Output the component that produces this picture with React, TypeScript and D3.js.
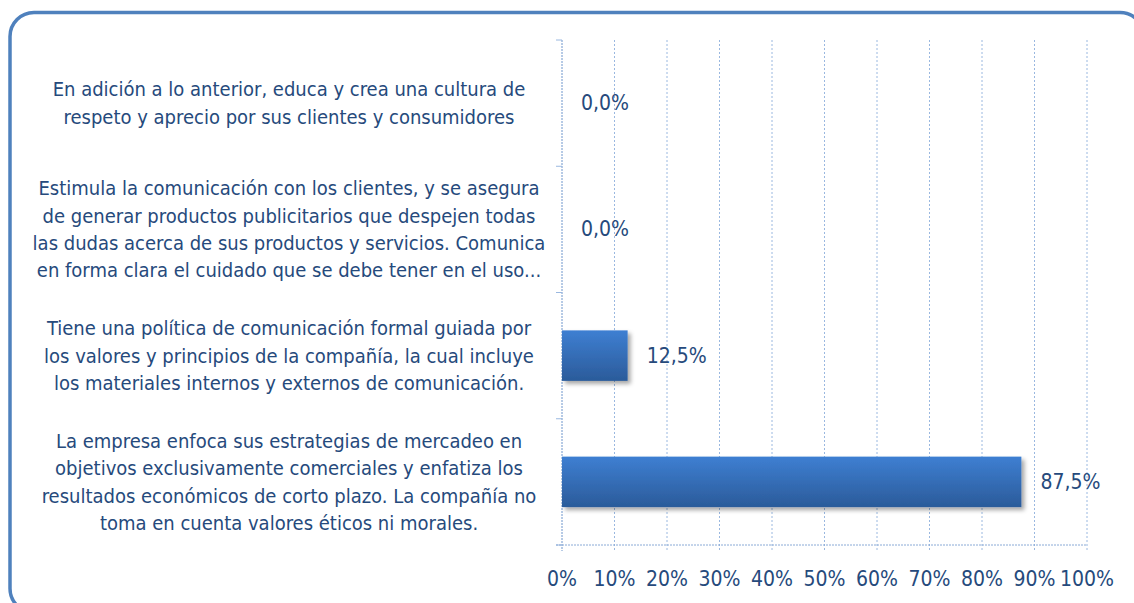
import React from "react";
import * as d3 from "d3";

const categories = ["cat1", "cat2", "cat3", "cat4"];
const categoryLines: string[][] = [
  [
    "En adición a lo anterior, educa y crea una cultura de",
    "respeto y aprecio por sus clientes y consumidores",
  ],
  [
    "Estimula la comunicación con los clientes, y se asegura",
    "de generar productos publicitarios que despejen todas",
    "las dudas acerca de sus productos y servicios. Comunica",
    "en forma clara el cuidado que se debe tener en el uso...",
  ],
  [
    "Tiene una política de comunicación formal guiada por",
    "los valores y principios de la compañía, la cual incluye",
    "los materiales internos y externos de comunicación.",
  ],
  [
    "La empresa enfoca sus estrategias de mercadeo en",
    "objetivos exclusivamente comerciales y enfatiza los",
    "resultados económicos de corto plazo. La compañía no",
    "toma en cuenta valores éticos ni morales.",
  ],
];
const values = [0, 0, 12.5, 87.5];
const xTicks = [0, 10, 20, 30, 40, 50, 60, 70, 80, 90, 100];

const W = 1134;
const H = 603;
const FONT = "'Liberation Sans Narrow', 'DejaVu Sans Condensed', 'Roboto Condensed', Roboto, sans-serif";
const TEXT = "#264a7c";

export default function App() {
  const x = d3.scaleLinear().domain([0, 100]).range([562, 1087]);
  const y = d3
    .scaleBand<string>()
    .domain(categories)
    .range([40, 545])
    .paddingInner(0.6)
    .paddingOuter(0.3);
  const step = y.step();
  const top = 40;
  const bottom = 545;
  const lineH = 27.4;

  return (
    <svg
      width={W}
      height={H}
      style={{ position: "absolute", left: 0, top: 0, background: "#fff" }}
      fontFamily={FONT}
    >
      <defs>
        <linearGradient id="barGrad" x1="0" y1="0" x2="0" y2="1">
          <stop offset="0%" stopColor="#3e7fd2" />
          <stop offset="100%" stopColor="#2b5b9a" />
        </linearGradient>
        <filter id="shadow" x="-10%" y="-30%" width="130%" height="170%">
          <feDropShadow dx="3" dy="3" stdDeviation="2" floodColor="#000" floodOpacity="0.35" />
        </filter>
      </defs>

      {/* frame */}
      <rect x={10} y={12.5} width={1134} height={600} rx={24} ry={24} fill="none" stroke="#4f81bd" strokeWidth={3.5} />

      {/* vertical gridlines */}
      {xTicks.map((t) => (
        <line
          key={"g" + t}
          x1={x(t)}
          x2={x(t)}
          y1={top}
          y2={bottom + 6}
          stroke={t === 0 ? "#6f96cc" : "#9ab8e0"}
          strokeWidth={1}
          strokeDasharray={t === 0 ? "2,1" : "2,2"}
        />
      ))}

      {/* left axis ticks */}
      {d3.range(categories.length + 1).map((i) => (
        <line
          key={"yt" + i}
          x1={x(0) - 6}
          x2={x(0)}
          y1={top + i * step}
          y2={top + i * step}
          stroke="#9ab8e0"
          strokeWidth={1}
        />
      ))}

      {/* bottom axis line */}
      <line x1={x(0) - 6} x2={x(100)} y1={bottom} y2={bottom} stroke="#8aaad6" strokeWidth={1} strokeDasharray="2,1" />

      {/* bars */}
      {values.map((v, i) =>
        v > 0 ? (
          <rect
            key={"b" + i}
            x={x(0)}
            y={y(categories[i])!}
            width={x(v) - x(0)}
            height={y.bandwidth()}
            fill="url(#barGrad)"
            filter="url(#shadow)"
          />
        ) : null
      )}

      {/* value labels */}
      {values.map((v, i) => (
        <text
          key={"v" + i}
          x={x(v) + 19}
          y={y(categories[i])! + y.bandwidth() / 2}
          dominantBaseline="central"
          fontSize={21}
          fill={TEXT}
        >
          {v.toFixed(1).replace(".", ",") + "%"}
        </text>
      ))}

      {/* x tick labels */}
      {xTicks.map((t) => (
        <text
          key={"xl" + t}
          x={x(t)}
          y={579}
          textAnchor="middle"
          dominantBaseline="central"
          fontSize={21}
          fill={TEXT}
        >
          {t + "%"}
        </text>
      ))}

      {/* category labels */}
      {categoryLines.map((lines, i) => {
        const c = y(categories[i])! + y.bandwidth() / 2;
        const start = c - ((lines.length - 1) * lineH) / 2;
        return (
          <g key={"c" + i}>
            {lines.map((ln, j) => (
              <text
                key={j}
                x={289}
                y={start + j * lineH}
                textAnchor="middle"
                dominantBaseline="central"
                fontSize={20}
                fill={TEXT}
              >
                {ln}
              </text>
            ))}
          </g>
        );
      })}
    </svg>
  );
}
